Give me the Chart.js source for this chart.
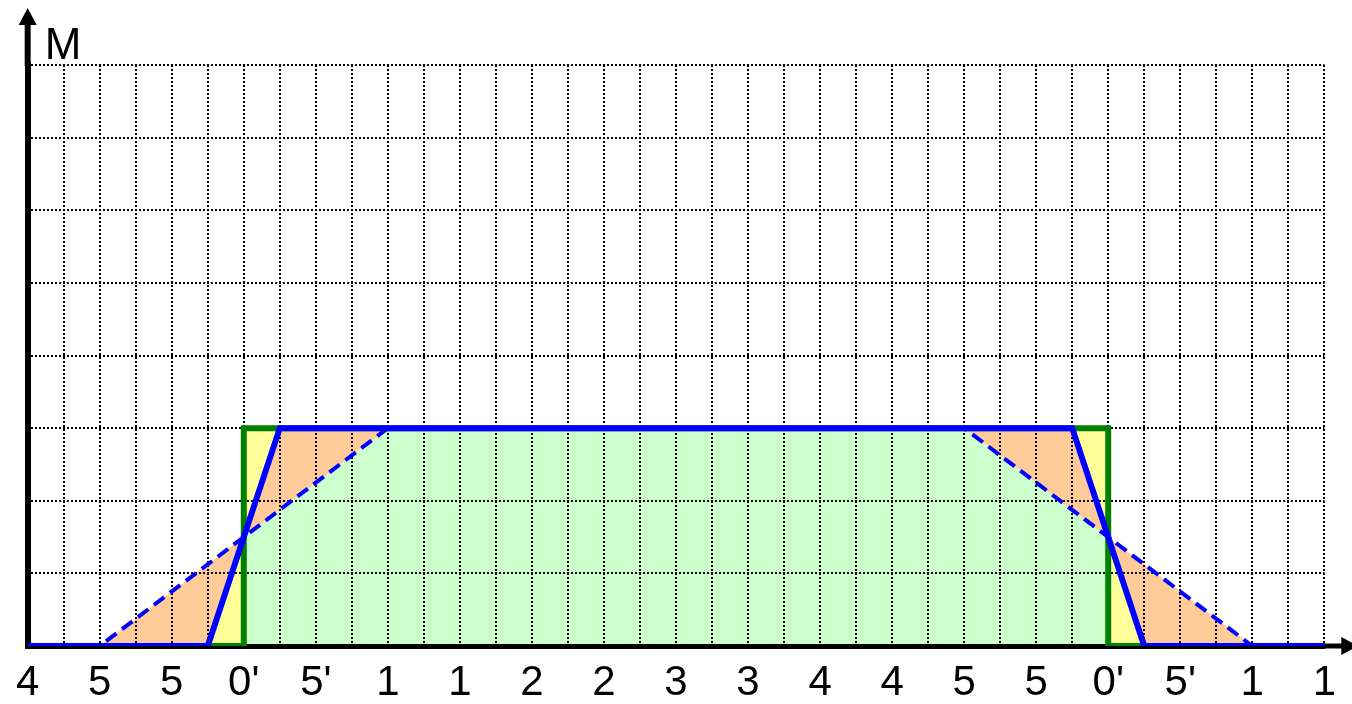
<!DOCTYPE html>
<html>
<head>
<meta charset="utf-8">
<script src="https://cdn.jsdelivr.net/npm/chart.js@4"></script>
<style>
  html, body { margin: 0; padding: 0; background: #fff; }
  #wrap { width: 1352px; height: 704px; }
</style>
</head>
<body>
<div id="wrap"><canvas id="chart"></canvas></div>
<script>
// tick labels under every second grid column
const xLabels = ['4', '5', '5', "0'", "5'", '1', '1', '2', '2', '3', '3', '4', '4', '5', '5', "0'", "5'", '1', '1'];

// crisp set (green rectangle)
const crispX = [0, 6, 6, 30, 30, 36];
const crispY = [0, 0, 3, 3, 0, 0];
// narrow fuzzy set (solid blue)
const fuzzyX = [0, 5, 7, 29, 31, 36];
const fuzzyY = [0, 0, 3, 3, 0, 0];
// wide fuzzy set (dashed blue)
const wideX = [0, 2, 10, 26, 34, 36];
const wideY = [0, 0, 3, 3, 0, 0];

function toPoints(xs, ys) {
    let pts = [];
    for (let i = 0; i < xs.length; i++) {
        pts.push({x: xs[i], y: ys[i]});
    }
    return pts;
}

const axisArrows = {
    id: 'axisArrows',
    beforeDatasetsDraw(chart) {
        const ctx = chart.ctx;
        const a = chart.chartArea;
        ctx.save();
        ctx.fillStyle = '#000';
        ctx.strokeStyle = '#000';
        // y axis up to the arrow
        ctx.lineWidth = 6;
        ctx.beginPath();
        ctx.moveTo(a.left, a.top + 1);
        ctx.lineTo(a.left, a.top - 41);
        ctx.stroke();
        ctx.beginPath();
        ctx.moveTo(a.left - 9, a.top - 40);
        ctx.lineTo(a.left, a.top - 57);
        ctx.lineTo(a.left + 9, a.top - 40);
        ctx.closePath();
        ctx.fill();
        // x axis to the arrow
        ctx.lineWidth = 5;
        ctx.beginPath();
        ctx.moveTo(a.right - 1, a.bottom);
        ctx.lineTo(a.right + 18, a.bottom);
        ctx.stroke();
        ctx.beginPath();
        ctx.moveTo(a.right + 17, a.bottom - 9);
        ctx.lineTo(a.right + 34, a.bottom);
        ctx.lineTo(a.right + 17, a.bottom + 9);
        ctx.closePath();
        ctx.fill();
        ctx.restore();
    },
    afterDraw(chart) {
        const ctx = chart.ctx;
        const a = chart.chartArea;
        ctx.save();
        ctx.fillStyle = '#000';
        ctx.font = '44px "Liberation Sans", Arial, sans-serif';
        ctx.textAlign = 'left';
        ctx.textBaseline = 'alphabetic';
        ctx.fillText('M', a.left + 17, a.top - 6);
        ctx.restore();
    }
};

// lines first in the array (index 0 can't be a fill target), fills drawn under the grid
new Chart(document.getElementById('chart'), {
    type: 'line',
    data: {
        datasets: [{
            data: toPoints(fuzzyX, fuzzyY),
            fill: false,
            borderColor: '#0000ff',
            borderWidth: 6,
            borderJoinStyle: 'miter',
            order: 1
        }, {
            data: toPoints(crispX, crispY),
            fill: false,
            borderColor: '#008000',
            borderWidth: 6,
            borderJoinStyle: 'miter',
            order: 2
        }, {
            data: toPoints(wideX, wideY),
            fill: false,
            borderColor: '#0000ff',
            borderWidth: 4,
            borderDash: [13, 7],
            order: 3
        }, {
            data: toPoints(crispX, crispY),
            fill: 'origin',
            backgroundColor: '#ccffcc',
            borderColor: 'transparent',
            borderWidth: 0,
            order: 6
        }, {
            data: toPoints(fuzzyX, fuzzyY),
            fill: 3,
            backgroundColor: '#ffff99',
            borderColor: 'transparent',
            borderWidth: 0,
            order: 5
        }, {
            data: toPoints(wideX, wideY),
            fill: 4,
            backgroundColor: '#ffcc99',
            borderColor: 'transparent',
            borderWidth: 0,
            order: 4
        }]
    },
    options: {
        responsive: true,
        maintainAspectRatio: false,
        animation: false,
        elements: {
            point: { radius: 0, hoverRadius: 0 },
            line: { tension: 0 }
        },
        layout: {
            padding: { left: 22, right: 22, top: 65, bottom: -16 }
        },
        plugins: {
            legend: { display: false },
            tooltip: { enabled: false },
            filler: { drawTime: 'beforeDraw' }
        },
        scales: {
            x: {
                type: 'linear',
                min: 0,
                max: 36,
                grid: { color: '#000', lineWidth: 2, drawTicks: false },
                border: { color: '#000', width: 5, dash: [2, 2] },
                ticks: {
                    stepSize: 1,
                    autoSkip: false,
                    maxRotation: 0,
                    padding: 16,
                    color: '#000',
                    font: { family: '"Liberation Sans", Arial, sans-serif', size: 42, lineHeight: 1 },
                    callback: function(v) {
                        return v % 2 === 0 ? xLabels[v / 2] : '';
                    }
                }
            },
            y: {
                min: 0,
                max: 8,
                grid: { color: '#000', lineWidth: 2, drawTicks: false },
                border: { color: '#000', width: 6, dash: [2, 2] },
                ticks: { stepSize: 1, display: false }
            }
        }
    },
    plugins: [axisArrows]
});
</script>
</body>
</html>
